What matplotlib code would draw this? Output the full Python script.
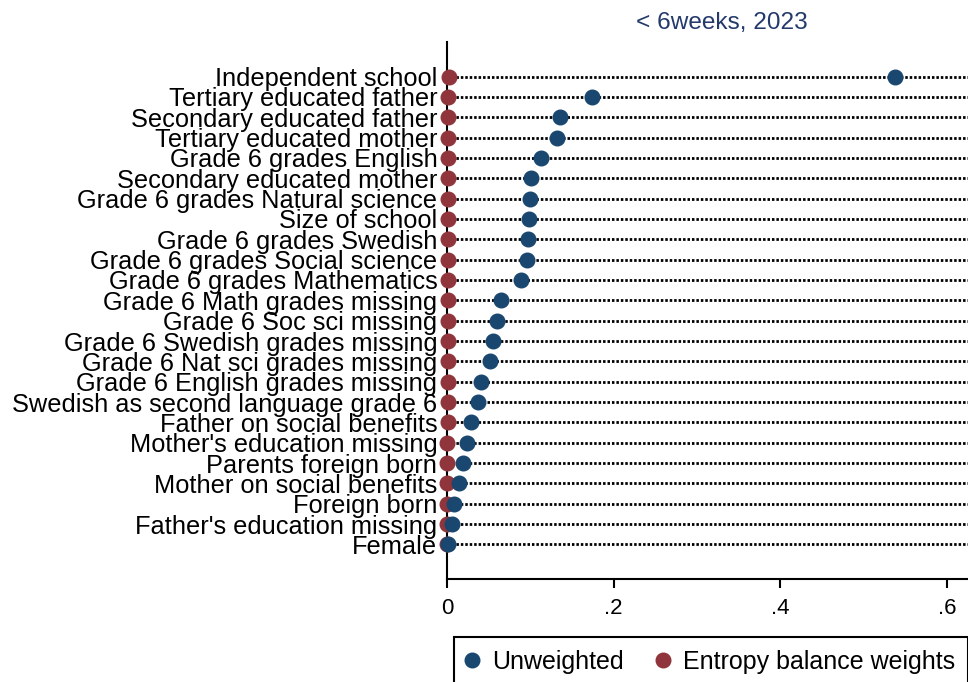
import matplotlib
matplotlib.use("Agg")
import matplotlib.pyplot as plt
from matplotlib.lines import Line2D

plt.rcParams['font.family'] = ['Liberation Sans', 'DejaVu Sans']

labels = [
    "Independent school",
    "Tertiary educated father",
    "Secondary educated father",
    "Tertiary educated mother",
    "Grade 6 grades English",
    "Secondary educated mother",
    "Grade 6 grades Natural science",
    "Size of school",
    "Grade 6 grades Swedish",
    "Grade 6 grades Social science",
    "Grade 6 grades Mathematics",
    "Grade 6 Math grades missing",
    "Grade 6 Soc sci missing",
    "Grade 6 Swedish grades missing",
    "Grade 6 Nat sci grades missing",
    "Grade 6 English grades missing",
    "Swedish as second language grade 6",
    "Father on social benefits",
    "Mother's education missing",
    "Parents foreign born",
    "Mother on social benefits",
    "Foreign born",
    "Father's education missing",
    "Female",
]

unweighted = [0.538, 0.174, 0.136, 0.132, 0.113, 0.101, 0.0995, 0.098, 0.097,
              0.096, 0.089, 0.065, 0.060, 0.055, 0.052, 0.041, 0.037, 0.029,
              0.024, 0.019, 0.014, 0.008, 0.006, 0.001]

entropy = [0.002, 0.001, 0.001, 0.001, 0.001, 0.001, 0.001, 0.001, 0.001,
           0.001, 0.001, 0.001, 0.001, 0.001, 0.001, 0.001, 0.001, 0.001,
           0.0, 0.0, 0.0, 0.0, 0.0, 0.0]

xticks = [0, 0.2, 0.4, 0.6]
xticklabels = ["0", ".2", ".4", ".6"]
title = "< 6weeks, 2023"

blue = "#1a476f"
red = "#90353b"
title_color = "#243a6b"

fig = plt.figure(figsize=(9.68, 6.82), dpi=100)
ax = fig.add_axes([447/968, 1 - 579/682, 1 - 447/968, (579 - 42)/682])

n = len(labels)
ypos = list(range(n, 0, -1))

for y in ypos:
    ax.axhline(y, color="black", lw=2.0, linestyle=(0, (0.9, 0.7)), zorder=1)

ax.plot(entropy, ypos, "o", color=red, ms=10.5, mec=red, zorder=3, clip_on=False,
        label="Entropy balance weights")
ax.plot(unweighted, ypos, "o", color=blue, ms=10.5, mec=blue, zorder=4, clip_on=False,
        label="Unweighted")

ax.set_xlim(0, 0.625)
ax.set_ylim(1 - 1.7, n + 1.7)

ax.set_yticks(ypos)
ax.set_yticklabels(labels, fontsize=18.3)
ax.tick_params(axis="y", length=0, pad=7)

ax.set_xticks(xticks)
ax.set_xticklabels(xticklabels, fontsize=16)
ax.tick_params(axis="x", length=6.5, width=1.5, pad=7, direction="out")

for s in ["top", "right"]:
    ax.spines[s].set_visible(False)
for s in ["left", "bottom"]:
    ax.spines[s].set_linewidth(1.5)

fig.text(722/968, 1 - 23/682, title, color=title_color, fontsize=17.6,
         ha="center", va="center")

handles = [
    Line2D([], [], marker="o", linestyle="", color=blue, ms=10.5, label="Unweighted"),
    Line2D([], [], marker="o", linestyle="", color=red, ms=10.5, label="Entropy balance weights"),
]
leg = fig.legend(handles=handles, loc="upper center", ncol=2,
                 bbox_to_anchor=(711/968, 1 - 637/682), bbox_transform=fig.transFigure,
                 fontsize=18, frameon=True, fancybox=False, edgecolor="black",
                 handlelength=0.4, handletextpad=0.6, columnspacing=1.4,
                 borderpad=0.5, borderaxespad=0)
leg.get_frame().set_linewidth(1.5)
leg.get_frame().set_alpha(1)

fig.savefig("out.png", dpi=100)
